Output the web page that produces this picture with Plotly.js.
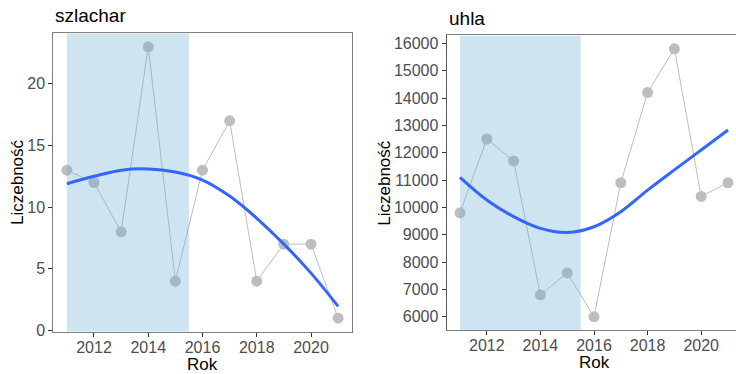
<!DOCTYPE html>
<html>
<head>
<meta charset="utf-8">
<script src="https://cdn.plot.ly/plotly-3.0.1.min.js"></script>
<style>
  html, body { margin: 0; padding: 0; overflow: hidden; background: #ffffff; }
</style>
</head>
<body>
<div id="chart"></div>
<script>
// Survey years and yearly counts for the two routes
const years = [2011, 2012, 2013, 2014, 2015, 2016, 2017, 2018, 2019, 2020, 2021];

const szlacharCounts = [13, 12, 8, 23, 4, 13, 17, 4, 7, 7, 1];
const szlacharTrend  = [11.9, 12.5, 13.0, 13.1, 12.85, 12.2, 10.9, 9.1, 7.0, 4.65, 1.95];

const uhlaCounts = [9800, 12500, 11700, 6800, 7600, 6000, 10900, 14200, 15800, 10400, 10900];
const uhlaTrend  = [11100, 10270, 9660, 9230, 9080, 9290, 9840, 10630, 11370, 12100, 12830];

// Highlighted period (start, end)
const shadedPeriod = [2011, 2015.5];

// Tick labels
const yearTicks = [2012, 2014, 2016, 2018, 2020];
const szlacharTicks = [0, 5, 10, 15, 20];
const uhlaTicks = [6000, 7000, 8000, 9000, 10000, 11000, 12000, 13000, 14000, 15000, 16000];

const panelTitles = ['szlachar', 'uhla'];
const xTitle = 'Rok';
const yTitle = 'Liczebność';

// ---- page geometry (pixels) ----
const W = 742, H = 374;
const FONT = 'Liberation Sans, Arial, Helvetica, sans-serif';

// ggplot-style 5% padding around the data extent
function padded(values) {
  const lo = Math.min(...values), hi = Math.max(...values);
  const pad = (hi - lo) * 0.05;
  return [lo - pad, hi + pad];
}

const xRange = padded(years);
const yRange1 = padded(szlacharCounts.concat(szlacharTrend));
const yRange2 = padded(uhlaCounts.concat(uhlaTrend));

function panelTraces(counts, trend, yRange, xa, ya) {
  return [
    {
      x: years, y: counts, xaxis: xa, yaxis: ya,
      type: 'scatter', mode: 'lines+markers',
      line: { color: '#bebebe', width: 1 },
      marker: { color: '#bebebe', size: 11 },
      hoverinfo: 'skip', showlegend: false
    },
    {
      // shaded period spanning the full panel height
      x: [shadedPeriod[0], shadedPeriod[0], shadedPeriod[1], shadedPeriod[1], shadedPeriod[0]],
      y: [yRange[0], yRange[1], yRange[1], yRange[0], yRange[0]],
      xaxis: xa, yaxis: ya,
      type: 'scatter', mode: 'lines', fill: 'toself',
      fillcolor: 'rgba(107,174,214,0.33)',
      line: { width: 0, color: 'rgba(0,0,0,0)' },
      hoverinfo: 'skip', showlegend: false
    },
    {
      x: years, y: trend, xaxis: xa, yaxis: ya,
      type: 'scatter', mode: 'lines',
      line: { color: '#3366FF', width: 3, shape: 'spline', smoothing: 1 },
      hoverinfo: 'skip', showlegend: false
    }
  ];
}

const data = [].concat(
  panelTraces(szlacharCounts, szlacharTrend, yRange1, 'x', 'y'),
  panelTraces(uhlaCounts, uhlaTrend, yRange2, 'x2', 'y2')
);

function axisStyle(extra) {
  return Object.assign({
    ticks: 'outside', ticklen: 4, tickwidth: 1, tickcolor: '#333333',
    showline: true, mirror: true, linecolor: '#7f7f7f', linewidth: 1,
    showgrid: false, zeroline: false, automargin: false,
    tickformat: 'd',
    tickfont: { family: FONT, size: 16, color: '#4d4d4d' }
  }, extra);
}

const fx = px => px / W;
const fy = py => 1 - py / H;

// plot areas in pixels
const P1 = { l: 53.3, r: 351.7, t: 33.3, b: 331.7 };
const P2 = { l: 446.6, r: 741.4, t: 35.4, b: 330.1 };

const layout = {
  width: W, height: H,
  margin: { l: 0, r: 0, t: 0, b: 0, pad: 0 },
  paper_bgcolor: '#ffffff', plot_bgcolor: '#ffffff',
  font: { family: FONT, color: '#000000' },
  showlegend: false,
  xaxis: axisStyle({ domain: [fx(P1.l), fx(P1.r)], anchor: 'y', range: xRange, tickvals: yearTicks, ticklabelstandoff: -3 }),
  yaxis: axisStyle({ domain: [fy(P1.b), fy(P1.t)], anchor: 'x', range: yRange1, tickvals: szlacharTicks }),
  xaxis2: axisStyle({ domain: [fx(P2.l), fx(P2.r)], anchor: 'y2', range: xRange, tickvals: yearTicks, ticklabelstandoff: -3 }),
  yaxis2: axisStyle({ domain: [fy(P2.b), fy(P2.t)], anchor: 'x2', range: yRange2, tickvals: uhlaTicks, linecolor: '#5a5a5a' }),
  annotations: [
    { text: panelTitles[0], x: fx(P1.l), y: fy(16), xanchor: 'left', yanchor: 'middle' },
    { text: panelTitles[1], x: fx(P2.l), y: fy(18.5), xanchor: 'left', yanchor: 'middle' },
  ].map(a => Object.assign(a, { xref: 'paper', yref: 'paper', showarrow: false,
      font: { family: FONT, size: 19, color: '#000000' } }))
   .concat([
    { text: xTitle, x: fx((P1.l + P1.r) / 2), y: fy(364) },
    { text: xTitle, x: fx((P2.l + P2.r) / 2), y: fy(362.3) },
    { text: yTitle, x: fx(17.5), y: fy((P1.t + P1.b) / 2), textangle: -90 },
    { text: yTitle, x: fx(385), y: fy((P2.t + P2.b) / 2), textangle: -90 }
  ].map(a => Object.assign(a, { xref: 'paper', yref: 'paper', showarrow: false,
      xanchor: 'center', yanchor: 'middle',
      font: { family: FONT, size: 17, color: '#000000' } })))
};

Plotly.newPlot('chart', data, layout, { staticPlot: true, displayModeBar: false });
</script>
</body>
</html>
